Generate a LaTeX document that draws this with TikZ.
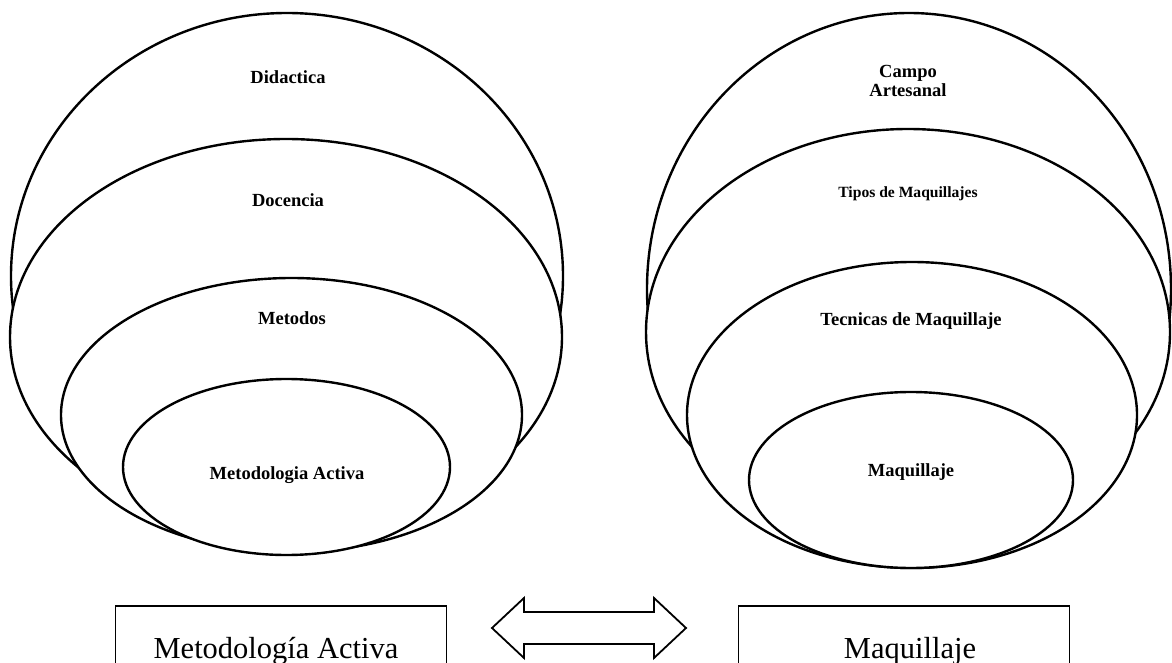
\documentclass[tikz,border=0pt]{standalone}
\usepackage{fontspec}
\setmainfont{Liberation Serif}
\begin{document}
\begin{tikzpicture}[x=1pt,y=-1pt,
  ring/.style={draw=black, fill=white, line width=2.4pt},
  lbl/.style={font=\bfseries\fontsize{18.5}{20}\selectfont, anchor=base, inner sep=0pt},
  lblsmall/.style={font=\bfseries\fontsize{15.6}{17}\selectfont, anchor=base, inner sep=0pt},
  bottombox/.style={draw=black, line width=1.8pt, minimum width=331pt, minimum height=110pt, anchor=north, inner sep=0pt},
  big/.style={font=\fontsize{30.5}{34}\selectfont, anchor=base, inner sep=0pt},
  dblarrow/.style={draw=black, line width=1.8pt, fill=white, line join=miter}]
\useasboundingbox (0,0) rectangle (1172,663);
\clip (0,0) rectangle (1172,663);
% left nest
\path[ring] (287,276) ellipse [x radius=276pt, y radius=263pt];
\path[ring] (286,337) ellipse [x radius=276pt, y radius=198pt];
\path[ring] (291.5,415) ellipse [x radius=230.5pt, y radius=137pt];
\path[ring] (286.5,467) ellipse [x radius=163.5pt, y radius=88pt];
\node[lbl] (didactica) at (288,84) {Didactica};
\node[lbl] (docencia) at (288,207) {Docencia};
\node[lbl] (metodos) at (292,324) {Metodos};
\node[lbl] (metact) at (287,479) {Metodologia Activa};
% right nest
\path[ring] (909,289) ellipse [x radius=262pt, y radius=276pt];
\path[ring] (908,332) ellipse [x radius=262pt, y radius=203pt];
\path[ring] (912,415) ellipse [x radius=225pt, y radius=153pt];
\path[ring] (911,480) ellipse [x radius=162pt, y radius=88pt];
\node[lbl] (campo) at (908,78) {Campo};
\node[lbl] (artesanal) at (908,97) {Artesanal};
\node[lblsmall] (tipos) at (908,197) {Tipos de Maquillajes};
\node[lbl] (tecnicas) at (911,325) {Tecnicas de Maquillaje};
\node[lbl] (maq) at (911,476) {Maquillaje};
% bottom row
\node[bottombox] (lbox) at (281,605) {};
\node[bottombox] (rbox) at (904,605) {};
\node[big] (lboxtext) at (276,658) {Metodología Activa};
\node[big] (rboxtext) at (910,658) {Maquillaje};
\draw[dblarrow] (492,628) -- (524,598) -- (524,612) -- (654,612) -- (654,598)
  -- (686,628) -- (654,658) -- (654,644) -- (524,644) -- (524,658) -- cycle;
\end{tikzpicture}
\end{document}
